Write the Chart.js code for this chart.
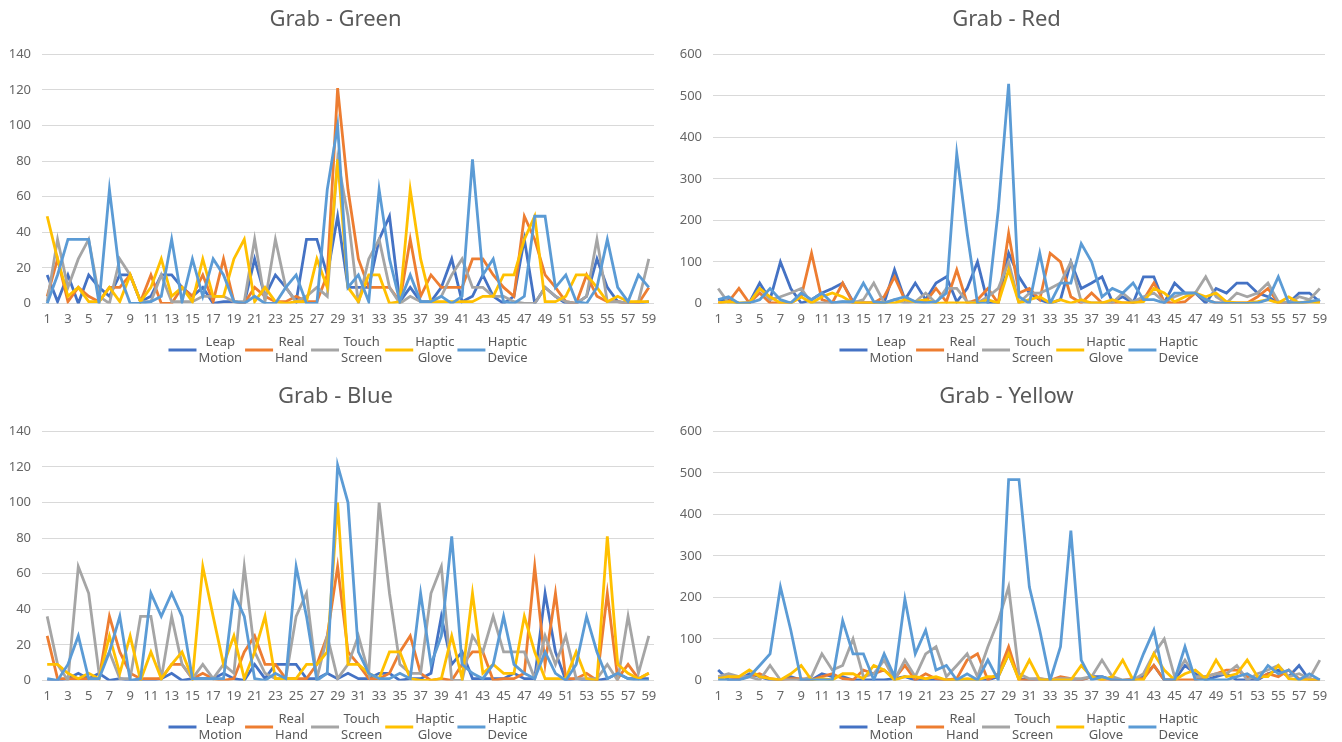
<!DOCTYPE html>
<html>
<head>
<meta charset="utf-8">
<script src="https://cdn.jsdelivr.net/npm/chart.js@4/dist/chart.umd.min.js"></script>
<style>
  body { margin: 0; background: #fff; }
  .panel { position: absolute; width: 671px; height: 365px; }
</style>
</head>
<body>
<div class="panel" style="left:0;top:0"><canvas id="greenChart" width="671" height="365"></canvas></div>
<div class="panel" style="left:671px;top:0"><canvas id="redChart" width="671" height="365"></canvas></div>
<div class="panel" style="left:0;top:377px"><canvas id="blueChart" width="671" height="365"></canvas></div>
<div class="panel" style="left:671px;top:377px"><canvas id="yellowChart" width="671" height="365"></canvas></div>
<script>
// categories 1..59
const categories = ['1','2','3','4','5','6','7','8','9','10','11','12','13','14','15','16','17','18','19','20',
  '21','22','23','24','25','26','27','28','29','30','31','32','33','34','35','36','37','38','39','40',
  '41','42','43','44','45','46','47','48','49','50','51','52','53','54','55','56','57','58','59'];

const seriesNames = [['Leap', 'Motion'], ['Real', 'Hand'], ['Touch', 'Screen'], ['Haptic', 'Glove'], ['Haptic', 'Device']];
const seriesColors = ['#4472C4', '#ED7D31', '#A5A5A5', '#FFC000', '#5B9BD5'];

// Grab - Green
const greenLeap = [16,1,16,0,16,9,4,16,16,1, 4,16,16,9,4,9,0,1,1,0, 25,4,16,9,1,36,36,16,49,9, 9,9,36,49,1,9,1,1,9,25, 1,4,16,4,0,4,36,0,9,4, 0,0,4,25,9,1,0,0,1];
const greenReal = [4,25,1,9,4,1,9,9,16,1, 16,0,0,9,4,16,1,25,1,0, 9,4,1,1,4,1,1,16,121,64, 25,9,9,9,1,36,4,16,9,9, 9,25,25,16,9,4,49,36,16,9, 1,0,16,4,1,1,0,0,9];
const greenTouch = [1,36,9,25,36,4,0,25,16,1, 1,16,1,1,1,4,4,4,1,1, 36,1,36,9,1,4,9,4,81,49, 0,25,36,9,0,4,1,1,4,16, 25,9,9,4,4,1,0,0,9,4, 1,0,4,36,1,1,0,1,25];
const greenGlove = [49,25,4,9,1,1,9,1,16,1, 9,25,4,9,1,25,4,4,25,36, 1,9,1,0,1,1,25,9,81,9, 1,16,16,0,1,64,25,1,1,1, 1,1,4,4,16,16,36,49,1,1, 4,16,16,9,1,4,1,1,1];
const greenDevice = [0,16,36,36,36,0,64,16,0,0, 1,4,36,1,25,4,25,16,1,0, 4,0,0,9,16,0,0,64,100,9, 16,1,64,25,1,16,1,1,4,0, 4,81,16,25,1,0,4,49,49,9, 16,1,0,9,36,9,1,16,9];

// Grab - Red
const redLeap = [9,9,0,1,49,9,100,36,1,9, 25,36,49,4,1,1,1,81,9,49, 9,49,64,4,36,100,1,1,121,64, 25,9,0,9,100,36,49,64,4,16, 1,64,64,1,49,25,25,1,36,25, 49,49,25,16,1,1,25,25,4];
const redReal = [1,4,36,1,25,1,1,1,16,121, 9,1,49,1,1,1,16,64,9,4, 4,36,4,81,1,9,36,0,169,25, 36,9,121,100,16,1,25,1,1,1, 1,9,49,4,0,4,25,9,1,1, 1,1,16,36,1,1,1,4,4];
const redTouch = [36,1,0,1,36,9,16,25,36,1, 1,1,4,1,9,49,1,9,1,4, 25,1,36,36,4,1,16,36,100,1, 25,25,36,49,100,4,1,1,1,25, 4,16,25,4,16,25,25,64,16,1, 25,16,25,49,4,1,16,9,36];
const redGlove = [1,4,1,1,36,16,1,1,16,1, 16,25,16,1,1,1,1,1,9,4, 9,0,1,1,1,1,9,1,81,1, 9,16,1,9,1,9,1,1,9,1, 1,4,36,25,4,16,25,16,25,4, 1,1,4,9,1,16,1,4,1];
const redDevice = [9,16,0,1,9,36,9,1,25,9, 25,1,4,4,49,4,1,9,16,4, 1,4,25,361,169,0,1,225,529,16, 0,121,0,49,49,144,100,16,36,25, 49,9,9,1,25,25,25,9,1,0, 0,0,1,9,64,1,1,4,9];

// Grab - Blue
const blueLeap = [0,0,1,4,1,4,0,1,0,0, 0,1,4,0,1,1,1,4,1,0, 9,1,9,9,9,1,1,4,1,4, 1,1,4,4,0,1,1,4,36,9, 16,1,1,1,1,4,1,1,49,16, 0,1,0,0,1,4,1,1,1];
const blueReal = [25,1,1,1,1,1,36,16,4,1, 1,1,9,9,1,4,1,0,1,16, 25,9,9,1,1,1,9,25,64,16, 9,1,1,4,16,25,4,0,1,0, 9,16,16,0,1,1,4,64,9,49, 1,1,4,0,49,1,9,1,4];
const blueTouch = [36,9,0,64,49,4,16,1,1,36, 36,1,36,9,1,9,1,9,4,64, 16,4,1,1,36,49,1,25,1,9, 25,4,100,49,9,4,4,49,64,0, 0,25,16,36,16,16,16,1,25,9, 25,1,1,1,9,0,36,4,25];
const blueGlove = [9,9,4,1,4,1,25,4,25,0, 16,1,9,16,1,64,36,9,25,1, 16,36,1,1,1,9,9,16,100,9, 9,4,1,16,16,1,0,0,1,25, 1,49,4,9,4,4,36,16,1,1, 1,16,1,0,81,9,4,1,4];
const blueDevice = [1,0,9,25,1,1,16,36,0,1, 49,36,49,36,1,1,1,1,49,36, 1,0,4,1,64,36,0,4,121,100, 16,4,1,1,4,1,49,9,25,81, 9,4,1,9,36,9,4,1,16,4, 0,9,36,16,1,4,1,0,0];

// Grab - Yellow
const yellowLeap = [25,1,1,16,9,1,1,9,1,1, 16,9,9,1,1,1,1,4,9,1, 1,1,1,1,1,1,1,9,64,4, 1,1,0,1,1,1,9,9,1,0, 1,9,36,1,1,36,16,1,9,16, 1,1,1,16,25,9,36,1,1];
const yellowReal = [9,9,4,9,16,4,1,4,4,1, 9,16,4,1,25,16,25,4,36,1, 16,4,1,4,49,64,1,16,81,1, 1,4,0,9,4,1,9,1,1,0, 4,4,36,1,1,1,1,9,16,25, 25,9,4,16,9,25,4,1,1];
const yellowTouch = [9,16,9,9,1,36,1,1,1,9, 64,25,36,100,9,16,49,1,49,9, 64,81,9,36,64,9,81,144,225,16, 4,4,1,4,4,4,9,49,9,1, 1,16,64,100,9,49,9,9,16,16, 36,1,16,25,36,9,16,4,49];
const yellowGlove = [4,9,9,25,9,4,1,16,36,1, 4,1,16,16,4,36,25,1,9,9, 4,9,1,1,4,1,9,9,64,1, 49,1,1,1,1,36,9,1,9,49, 1,1,64,25,1,16,25,4,49,9, 16,49,9,9,36,4,1,1,0];
const yellowDevice = [1,1,1,9,36,64,225,121,1,1, 1,1,144,64,64,1,64,9,196,64, 121,25,36,1,16,1,49,1,484,484, 225,121,0,81,361,49,1,9,1,0, 0,64,121,1,1,81,1,1,1,1, 9,16,1,36,16,25,1,16,1];

const FONT = '"Noto Sans", "Open Sans", sans-serif';

// two-line legend drawn under the x axis
const lineLegend = {
  id: 'lineLegend',
  afterDraw(chart) {
    const ctx = chart.ctx;
    const ds = chart.data.datasets;
    ctx.save();
    ctx.font = '13px ' + FONT;
    const widths = ds.map(d => Math.max(...d.label.map(t => ctx.measureText(t).width)));
    const lineLen = 28, gap = 2, sp = 3;
    const total = widths.reduce((a, w) => a + lineLen + gap + w + sp, 0) - sp;
    let x = 348 - total / 2;
    ctx.textAlign = 'center';
    ctx.textBaseline = 'middle';
    ds.forEach((d, i) => {
      ctx.strokeStyle = d.borderColor;
      ctx.lineWidth = 3;
      ctx.beginPath();
      ctx.moveTo(x, 350);
      ctx.lineTo(x + lineLen, 350);
      ctx.stroke();
      ctx.fillStyle = '#595959';
      const cx = x + lineLen + gap + widths[i] / 2;
      ctx.fillText(d.label[0], cx, 342);
      ctx.fillText(d.label[1], cx, 358);
      x += lineLen + gap + widths[i] + sp;
    });
    ctx.restore();
  }
};

function makeChart(id, title, series, yMax, yStep) {
  new Chart(document.getElementById(id), {
    type: 'line',
    data: {
      labels: categories,
      datasets: series.map((vals, i) => ({
        label: seriesNames[i],
        data: vals,
        borderColor: seriesColors[i],
        backgroundColor: seriesColors[i],
        borderWidth: 2.8,
        pointRadius: 0,
        tension: 0,
        fill: false,
        order: series.length - 1 - i
      }))
    },
    options: {
      responsive: false,
      animation: false,
      devicePixelRatio: 1,
      layout: { padding: { left: 0, right: 0, top: 0, bottom: 30 } },
      plugins: {
        legend: { display: false },
        tooltip: { enabled: false },
        title: {
          display: true,
          text: title,
          color: '#595959',
          font: { family: FONT, size: 22, weight: 'normal', lineHeight: 1.2 },
          padding: { top: 7, bottom: 21 }
        }
      },
      scales: {
        x: {
          offset: true,
          grid: { display: false, drawTicks: false },
          border: { display: false },
          ticks: {
            autoSkip: false,
            maxRotation: 0,
            padding: 8,
            color: '#666',
            font: { family: FONT, size: 13 },
            callback: function (v, i) { return i % 2 === 0 ? this.getLabelForValue(v) : ''; }
          }
        },
        y: {
          min: 0,
          max: yMax,
          afterFit: s => { s.width = 42; },
          grid: { color: '#d9d9d9', drawTicks: false },
          border: { display: false },
          ticks: { stepSize: yStep, padding: 11, color: '#666', font: { family: FONT, size: 13 } }
        },
        // empty right margin so the title centres on the whole panel
        margin: {
          position: 'right',
          min: 0,
          max: yMax,
          afterFit: s => { s.width = 17; },
          grid: { display: false, drawTicks: false },
          border: { display: false },
          ticks: { display: false }
        }
      }
    },
    plugins: [lineLegend]
  });
}

makeChart('greenChart', 'Grab - Green', [greenLeap, greenReal, greenTouch, greenGlove, greenDevice], 140, 20);
makeChart('redChart', 'Grab - Red', [redLeap, redReal, redTouch, redGlove, redDevice], 600, 100);
makeChart('blueChart', 'Grab - Blue', [blueLeap, blueReal, blueTouch, blueGlove, blueDevice], 140, 20);
makeChart('yellowChart', 'Grab - Yellow', [yellowLeap, yellowReal, yellowTouch, yellowGlove, yellowDevice], 600, 100);
</script>
</body>
</html>
